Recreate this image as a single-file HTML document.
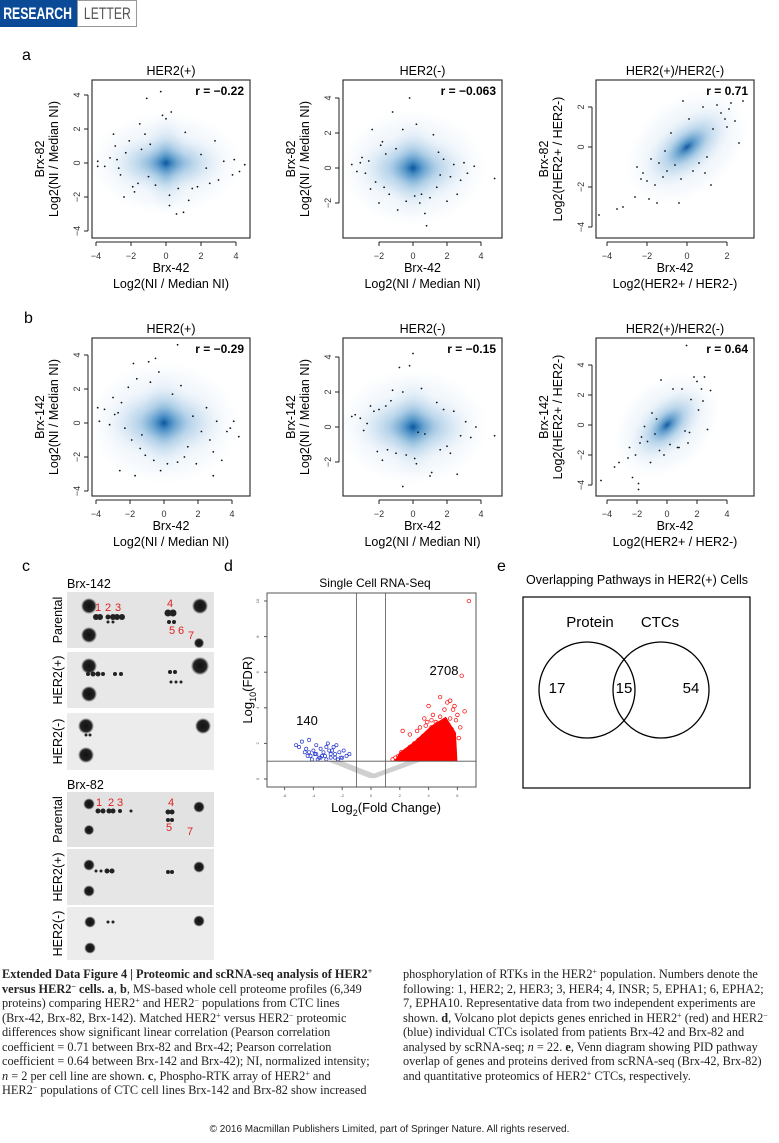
<!DOCTYPE html>
<html><head><meta charset="utf-8">
<style>
body{margin:0;width:779px;height:1143px;background:#fff;position:relative;overflow:hidden;font-family:"Liberation Sans",sans-serif;}
.abs{position:absolute;}
.cap{position:absolute;font-family:"Liberation Serif",serif;font-size:12.3px;line-height:14.5px;color:#222;}
.cap p{margin:0;white-space:nowrap;}
.cap sup{font-size:8px;line-height:0;vertical-align:4px;}
</style></head>
<body>
<div class="abs" style="left:0;top:0;width:77px;height:27px;background:#0b4a96;overflow:hidden"><span style="display:block;width:96px;color:#fff;font:bold 17px 'Liberation Sans',sans-serif;line-height:27px;text-align:center;transform:scaleX(0.72);transform-origin:0 0;margin-left:3px">RESEARCH</span></div>
<div class="abs" style="left:77px;top:0;width:58px;height:25px;border:1px solid #999;overflow:hidden"><span style="display:block;width:76px;color:#555;font:17px 'Liberation Sans',sans-serif;line-height:25px;text-align:center;transform:scaleX(0.72);transform-origin:0 0;margin-left:2px">LETTER</span></div>

<svg class="abs" style="left:0;top:0" width="779" height="960" id="fig" font-family="Liberation Sans, sans-serif">
<defs>
<radialGradient id="dens"><stop offset="0" stop-color="#08519c" stop-opacity="0.95"/><stop offset="0.15" stop-color="#2b7bba" stop-opacity="0.75"/><stop offset="0.45" stop-color="#7fb3d8" stop-opacity="0.45"/><stop offset="0.75" stop-color="#c6dbef" stop-opacity="0.3"/><stop offset="1" stop-color="#deebf7" stop-opacity="0"/></radialGradient>
<radialGradient id="halo"><stop offset="0" stop-color="#c6dbef" stop-opacity="0.6"/><stop offset="0.7" stop-color="#deebf7" stop-opacity="0.35"/><stop offset="1" stop-color="#deebf7" stop-opacity="0"/></radialGradient>
<radialGradient id="blob"><stop offset="0" stop-color="#111"/><stop offset="0.7" stop-color="#222"/><stop offset="1" stop-color="#444" stop-opacity="0"/></radialGradient>
</defs>
<g font-size="16"><text x="22" y="60">a</text><text x="24" y="323">b</text><text x="22" y="571">c</text><text x="224" y="571">d</text><text x="497" y="571">e</text></g>
<g id="scatters"></g>
<g id="blots"></g>
<g id="volcano"></g>
<g id="venn">
<text x="637" y="584" font-size="12.5" text-anchor="middle">Overlapping Pathways in HER2(+) Cells</text>
<rect x="523" y="597" width="227" height="191" fill="none" stroke="#000" stroke-width="1.2"/>
<circle cx="587" cy="690" r="48" fill="none" stroke="#000" stroke-width="1.3"/>
<circle cx="661" cy="690" r="48" fill="none" stroke="#000" stroke-width="1.3"/>
<g font-size="15" text-anchor="middle">
<text x="590" y="627">Protein</text>
<text x="660" y="627">CTCs</text>
<text x="557" y="693">17</text>
<text x="624" y="693">15</text>
<text x="691" y="693">54</text>
</g></g>
</svg>

<div class="cap" style="left:2px;top:967px">
<p><b>Extended Data Figure 4 | Proteomic and scRNA-seq analysis of HER2<sup>+</sup></b></p>
<p><b>versus HER2<sup>−</sup> cells. a</b>, <b>b</b>, MS-based whole cell proteome profiles (6,349</p>
<p>proteins) comparing HER2<sup>+</sup> and HER2<sup>−</sup> populations from CTC lines</p>
<p>(Brx-42, Brx-82, Brx-142). Matched HER2<sup>+</sup> versus HER2<sup>−</sup> proteomic</p>
<p>differences show significant linear correlation (Pearson correlation</p>
<p>coefficient = 0.71 between Brx-82 and Brx-42; Pearson correlation</p>
<p>coefficient = 0.64 between Brx-142 and Brx-42); NI, normalized intensity;</p>
<p><i>n</i> = 2 per cell line are shown. <b>c</b>, Phospho-RTK array of HER2<sup>+</sup> and</p>
<p>HER2<sup>−</sup> populations of CTC cell lines Brx-142 and Brx-82 show increased</p>
</div>
<div class="cap" style="left:403px;top:967px">
<p>phosphorylation of RTKs in the HER2<sup>+</sup> population. Numbers denote the</p>
<p>following: 1, HER2; 2, HER3; 3, HER4; 4, INSR; 5, EPHA1; 6, EPHA2;</p>
<p>7, EPHA10. Representative data from two independent experiments are</p>
<p>shown. <b>d</b>, Volcano plot depicts genes enriched in HER2<sup>+</sup> (red) and HER2<sup>−</sup></p>
<p>(blue) individual CTCs isolated from patients Brx-42 and Brx-82 and</p>
<p>analysed by scRNA-seq; <i>n</i> = 22. <b>e</b>, Venn diagram showing PID pathway</p>
<p>overlap of genes and proteins derived from scRNA-seq (Brx-42, Brx-82)</p>
<p>and quantitative proteomics of HER2<sup>+</sup> CTCs, respectively.</p>
</div>
<div class="abs" style="left:0;width:779px;top:1124px;text-align:center;font-size:10px;color:#222">© 2016 Macmillan Publishers Limited, part of Springer Nature. All rights reserved.</div>

<script>
// ---- panel a1: HER2(+) Brx-82 vs Brx-42 ----
const a1X=[-3.9,-3.9,-3.5,-3.2,-3,-2.9,-2.8,-2.6,-2.4,-2.3,-2.1,-1.9,-1.8,-1.6,-1.4,-1.2,-1.1,-1,-0.9,-0.6,-0.3,-0.2,0,0.2,0.3,0.2,0.6,0.7,1,1.1,1.3,1.5,2,2.3,2.5,2.8,3,3.3,3.8,3.9,4.2,4.5,-1.5,-2.7,1.8];
const a1Y=[0.1,-0.2,-0.2,0.3,1.7,1,0.2,-0.7,-2,0.6,1.3,-1.4,-1.7,-1.2,0.8,1.7,3.8,-0.8,1.1,-1.3,4.2,2.8,2.6,-1.9,3,-2.5,-3,-1.5,-2.9,1.8,-2.2,-1.5,0.5,-0.3,-1.2,1.3,-1,0.1,-0.7,0.2,-0.5,-0.1,2.3,-0.3,-1.4];
// ---- panel a2: HER2(-) Brx-82 vs Brx-42 ----
const a2X=[-3.6,-3.3,-3.1,-3,-2.8,-2.6,-2.4,-2.2,-2,-1.9,-1.7,-1.6,-1.4,-1.2,-1,-0.9,-0.6,-0.4,-0.2,0.1,0.2,0.4,0.7,0.8,1,1.2,1.4,1.6,1.8,2,2.2,2.4,2.6,2.8,3,3.2,3.6,4.8,-1.8,0.5,1.5,-2.5];
const a2Y=[0.2,-0.2,0.3,0.6,-0.3,0.4,2.2,-0.8,-2,1.3,-1.1,0.8,-1.5,3.2,1.1,-2.4,2.2,-1.9,4,-1.6,2.5,-2,-2.6,-3.3,-1.7,1.9,-1.1,-0.4,0.5,-1.9,-0.5,0.2,-1.5,-0.7,0.3,-0.3,0.1,-0.6,1.5,-1.5,0.9,-1.2];
// ---- panel a3: HER2(+)/HER2(-) ----
const a3X=[-4.4,-3.5,-3.2,-2.6,-2.5,-2.2,-2,-1.9,-1.8,-1.6,-1.5,-1.4,-1.2,-1,-0.8,-0.6,-0.4,-0.2,0.1,0.3,0.6,0.8,1,1.2,1.5,1.7,1.9,2,2.2,2.4,2.6,2.8,-2.3,-1.1,0.9,1.3,2.1,-0.3];
const a3Y=[-3.4,-3.1,-3,-2.5,-1,-1.3,-1.7,-2.6,-0.6,-1.9,-2.8,-0.8,-1.5,-1.2,0.7,-0.9,-2.8,2.3,1.4,-1.2,-0.8,2,-0.5,-1.9,2.1,1.7,1.4,1,2.2,1.3,0.2,2.3,-1.6,-0.2,-1.3,0.9,1.9,-1.6];
// ---- panel b1: HER2(+) Brx-142 vs Brx-42 ----
const b1X=[-3.9,-3.8,-3.5,-3.2,-3,-2.9,-2.7,-2.6,-2.5,-2.3,-2.1,-1.9,-1.8,-1.6,-1.4,-1.3,-1.1,-0.9,-0.8,-0.6,-0.5,-0.3,-0.2,0.2,0.5,0.8,1,1.2,1.4,1.7,1.9,2.2,2.5,2.7,2.9,3.1,3.4,3.7,3.9,4.1,4.4,0.8,2.9,-1.7];
const b1Y=[0.9,0.1,0.8,-0.1,1.5,0.5,0.6,-2.8,1.2,-0.3,2.1,-1,3.5,2.6,-1.5,-0.7,-1.9,3.6,2.4,-2.2,3.8,3,-2.8,-2.4,1.7,-2.3,2.2,-2,-1.4,0.4,-2.4,-0.5,0.9,-1,-1.7,0.1,-2.2,-0.5,-0.3,0.1,-0.8,4.6,-3.1,-3.1];
// ---- panel b2: HER2(-) Brx-142 vs Brx-42 ----
const b2X=[-3.6,-3.4,-3.1,-2.9,-2.7,-2.5,-2.3,-2.1,-2,-1.8,-1.6,-1.5,-1.3,-1.2,-1,-0.8,-0.6,-0.4,-0.2,0,0.1,0.3,0.5,0.7,1,1.1,1.4,1.6,1.8,2,2.2,2.4,2.6,2.8,3.1,3.4,3.7,4.8,-0.6,0.2];
const b2Y=[0.6,0.7,0.5,-0.2,0.2,1.2,0.9,-1.4,1,-1.9,1.2,-1.3,1.5,2.1,-1.5,3.4,2,-1.6,3.5,4.2,-1.8,-0.3,2.2,-0.4,-2.8,-2.6,1.4,-1.3,1,-1.1,-1.5,0.9,-2.7,-0.5,0.3,-0.6,0,-0.5,-3.4,-2.1];
// ---- panel b3: HER2(+)/HER2(-) ----
const b3X=[-4.4,-3.5,-3.2,-2.6,-2.3,-2.1,-1.9,-1.9,-1.8,-1.5,-1.3,-1.1,-1,-0.8,-0.5,-0.4,-0.2,0.2,0.4,0.7,1,1.2,1.4,1.6,1.8,2,2.1,2.3,2.5,2.7,2.9,1.3,-2.5,-1.7,0.8,1.5,2.4,-0.7];
const b3Y=[-3.7,-2.8,-2.5,-2.2,-3.5,-2,-3.9,-4.3,-1.2,-0.1,-1.1,-2.5,0.8,-0.6,-1.7,3,-2,-1.3,2.4,-1.5,2.4,-0.4,-1.2,1.7,3.2,2.9,1,2.4,3.2,-0.3,2.3,5.3,-1.5,-0.8,-1.5,-0.5,1.6,0.4];
// ---- volcano (d) ----
const upX=[1.5,1.7,1.9,2,2.1,2.2,2.3,2.4,2.5,2.6,2.7,2.8,2.9,3,3.1,3.2,3.3,3.4,3.5,3.6,3.7,3.8,3.9,4,4.1,4.2,4.3,4.4,4.5,4.6,4.7,4.8,4.9,5,5.1,5.2,5.3,5.4,5.5,5.6,5.8,6,6.2,6.5,3.9,4.1,4.4,4.7,5,5.3,3.2,3.5,3.8,4.3,4.6,4.9,2.9,3.4,5.5,6.1,2.4,2.7,3.1,3.6,4,4.5,5.1,5.7,6.8,3.7,4.2,4.8,2.2,5.9,6.3];
const upY=[1.1,1.2,1.3,1.1,1.5,1.2,1.4,1.6,1.3,1.2,1.8,1.5,1.3,2,1.6,1.4,2.2,1.8,1.5,2.4,2,1.7,2.6,2.2,1.9,2.9,2.4,2.1,3.2,2.6,2.2,3.5,2.8,2.4,3.9,3,2.6,2.3,3.4,2.8,4.1,3.6,2.9,3.8,3.2,1.3,1.6,2.7,1.5,4.3,2.7,1.2,3,3.6,3.1,1.9,1.7,2.9,4.4,2.3,1.3,2.5,1.8,1.4,4.1,1.2,2.5,3.9,10,3.4,3.3,4.6,2.7,3.3,5.8];
const downX=[-5.2,-5,-4.8,-4.6,-4.5,-4.3,-4.2,-4,-3.9,-3.8,-3.6,-3.5,-3.3,-3.2,-3,-2.9,-2.8,-2.6,-2.5,-2.3,-2.2,-2,-1.9,-1.7,-1.5,-4.4,-3.7,-3.1,-2.7,-2.4,-4.1,-3.4,-2.1,-3.8,-3.5,-3.1,-2.8,-2.5,-2.3,-4.3];
const downY=[1.9,1.8,2.1,1.5,1.7,2.2,1.3,1.6,1.4,1.9,1.2,1.7,1.5,1.3,2,1.6,1.2,1.8,1.4,1.1,1.5,1.2,1.6,1.3,1.4,1.3,1.1,1.8,1.6,1.9,1.1,1.3,1.2,1.4,1.2,1.1,1.4,1.2,1.1,1.5];
const volXTicks=[-6,-4,-2,0,2,4,6];
const volYTicks=[0,2,4,6,8,10];

const NS='http://www.w3.org/2000/svg';
function mk(tag,attrs,parent){const e=document.createElementNS(NS,tag);for(const k in attrs)e.setAttribute(k,attrs[k]);parent.appendChild(e);return e;}
function txt(s,attrs,parent){const e=mk('text',attrs,parent);e.textContent=s;return e;}

const panels=[
 {id:'a1',xs:a1X,ys:a1Y,box:[92,80,250,238],x0:166,y0:163,sx:17.5,sy:17,xt:[-4,-2,0,2,4],yt:[-4,-2,0,2,4],title:'HER2(+)',r:'r = −0.22',yl1:'Brx-82',yl2:'Log2(NI / Median NI)',xl2:'Log2(NI / Median NI)',tilt:0,dw:[60,30]},
 {id:'a2',xs:a2X,ys:a2Y,box:[343,80,502,238],x0:413,y0:168,sx:17,sy:17.5,xt:[-2,0,2,4],yt:[-2,0,2,4],title:'HER2(-)',r:'r = −0.063',yl1:'Brx-82',yl2:'Log2(NI / Median NI)',xl2:'Log2(NI / Median NI)',tilt:0,dw:[58,34]},
 {id:'a3',xs:a3X,ys:a3Y,box:[596,80,754,238],x0:687,y0:147,sx:20,sy:20,xt:[-4,-2,0,2],yt:[-4,-2,0,2],title:'HER2(+)/HER2(-)',r:'r = 0.71',yl1:'Brx-82',yl2:'Log2(HER2+ / HER2-)',xl2:'Log2(HER2+ / HER2-)',tilt:-40,dw:[55,28]},
 {id:'b1',xs:b1X,ys:b1Y,box:[92,338,250,496],x0:164,y0:423,sx:17,sy:17,xt:[-4,-2,0,2,4],yt:[-4,-2,0,2,4],title:'HER2(+)',r:'r = −0.29',yl1:'Brx-142',yl2:'Log2(NI / Median NI)',xl2:'Log2(NI / Median NI)',tilt:0,dw:[60,36]},
 {id:'b2',xs:b2X,ys:b2Y,box:[343,338,502,496],x0:413,y0:427,sx:17,sy:17.5,xt:[-2,0,2,4],yt:[-2,0,2,4],title:'HER2(-)',r:'r = −0.15',yl1:'Brx-142',yl2:'Log2(NI / Median NI)',xl2:'Log2(NI / Median NI)',tilt:0,dw:[60,34]},
 {id:'b3',xs:b3X,ys:b3Y,box:[596,338,754,496],x0:667,y0:425,sx:15,sy:15,xt:[-4,-2,0,2,4],yt:[-4,-2,0,2,4],title:'HER2(+)/HER2(-)',r:'r = 0.64',yl1:'Brx-142',yl2:'Log2(HER2+ / HER2-)',xl2:'Log2(HER2+ / HER2-)',tilt:-45,dw:[48,26]}
];
const SG=document.getElementById('scatters');
panels.forEach(p=>{
 const g=mk('g',{},SG);
 
 
 const [L,T,R,B]=p.box;
 const X=v=>p.x0+v*p.sx, Y=v=>p.y0-v*p.sy;
 const cp=mk('clipPath',{id:'cp'+p.id},g);mk('rect',{x:L,y:T,width:R-L,height:B-T},cp);
 const dg=mk('g',{'clip-path':'url(#cp'+p.id+')'},g);
 const h=mk('ellipse',{cx:X(0),cy:Y(0),rx:p.dw[0]*1.25,ry:p.dw[1]*1.7,fill:'url(#halo)',transform:`rotate(${p.tilt} ${X(0)} ${Y(0)})`},dg);
 
 
 const d=mk('ellipse',{cx:X(0),cy:Y(0),rx:p.dw[0],ry:p.dw[1],fill:'url(#dens)',transform:`rotate(${p.tilt} ${X(0)} ${Y(0)})`},dg);
 
 
 if(p.tilt===0){const d2=mk('ellipse',{cx:X(0),cy:Y(0),rx:p.dw[1]*0.8,ry:p.dw[0]*0.85,fill:'url(#dens)',opacity:0.55},dg);
 
 }
 p.xs.forEach((x,i)=>{const c=mk('circle',{cx:X(x),cy:Y(p.ys[i]),r:0.9,fill:'#111'},dg);
 
 });
 mk('rect',{x:L,y:T,width:R-L,height:B-T,fill:'none',stroke:'#222','stroke-width':1.1},g);
 const xa=mk('g',{},g);
 
 
 mk('line',{x1:X(p.xt[0]),x2:X(p.xt[p.xt.length-1]),y1:B+4,y2:B+4,stroke:'#222'},xa);
 p.xt.forEach(t=>{mk('line',{x1:X(t),x2:X(t),y1:B+4,y2:B+8,stroke:'#222'},xa);txt(t<0?'−'+(-t):''+t,{x:X(t),y:B+21,'font-size':9,'text-anchor':'middle',fill:'#333'},xa);});
 const ya=mk('g',{},g);
 
 
 const yts=p.yt.filter(t=>Y(t)>=T-2&&Y(t)<=B+2);
 mk('line',{x1:L-4,x2:L-4,y1:Y(yts[0]),y2:Y(yts[yts.length-1]),stroke:'#222'},ya);
 yts.forEach(t=>{mk('line',{x1:L-8,x2:L-4,y1:Y(t),y2:Y(t),stroke:'#222'},ya);txt(t<0?'−'+(-t):''+t,{x:L-12,y:Y(t),'font-size':9,'text-anchor':'middle',fill:'#333',transform:`rotate(-90 ${L-12} ${Y(t)})`},ya);});
 const cx=(L+R)/2;
 const tt=txt(p.title,{x:cx,y:T-5,'font-size':12.5,'text-anchor':'middle'},g);
 
 
 const rt=txt(p.r,{x:R-6,y:T+15,'font-size':12,'font-weight':'bold','text-anchor':'end'},g);
 
 
 const xl=txt('Brx-42',{x:cx,y:B+34,'font-size':12.5,'text-anchor':'middle'},g);
 
 
 const xl2=txt(p.xl2,{x:cx,y:B+50,'font-size':12.5,'text-anchor':'middle'},g);
 
 
 const cy=(T+B)/2;
 const y1=txt(p.yl1,{x:L-48,y:cy,'font-size':12.5,'text-anchor':'middle',transform:`rotate(-90 ${L-48} ${cy})`},g);
 
 
 const y2=txt(p.yl2,{x:L-34,y:cy,'font-size':12.5,'text-anchor':'middle',transform:`rotate(-90 ${L-34} ${cy})`},g);
 
 
});

// ---- blots (c) ----
const BG=document.getElementById('blots');
const blotRows=[
 {name:'brx142-parental',y:592,h:56,label:'Parental',bg:'#e4e4e4',nums:[['1',98,611],['2',108,611],['3',118,611],['4',170,607],['5',172,634],['6',181,634],['7',191,639]],spots:[[96,617,3],[100,617,3],[108,617,2.5],[113,617,3],[117,617,3],[122,617,3],[168,613,3.5],[173,613,3.5],[169,622,2],[174,622,2],[108,622,1.5],[113,622,1.5]],big:[[89,606,7],[89,635,7],[200,606,7],[199,643,4.5]]},
 {name:'brx142-her2pos',y:652,h:56,label:'HER2(+)',bg:'#e8e8e8',nums:[],spots:[[88,674,2],[93,674,2.5],[98,674,2.5],[103,674,2],[115,674,2],[121,674,2],[170,672,2],[175,672,2],[171,682,1.5],[176,682,1.5],[181,682,1.5]],big:[[89,666,7],[89,694,7],[200,666,8]]},
 {name:'brx142-her2neg',y:713,h:57,label:'HER2(-)',bg:'#ececec',nums:[],spots:[[86,735,1.5],[90,735,1.5]],big:[[86,726,7],[86,755,7],[203,726,7]]},
 {name:'brx82-parental',y:792,h:55,label:'Parental',bg:'#e2e2e2',nums:[['1',99,806],['2',111,806],['3',120,806],['4',171,806],['5',169,831],['7',190,835]],spots:[[98,811,2.5],[103,811,2.5],[109,811,2.5],[113,811,2.5],[120,811,2],[131,811,1.5],[168,812,2.5],[172,812,2.5],[168,820,2],[172,820,2]],big:[[89,804,5],[89,830,4.5],[199,807,5]]},
 {name:'brx82-her2pos',y:849,h:56,label:'HER2(+)',bg:'#e6e6e6',nums:[],spots:[[96,871,1.5],[101,871,1.5],[107,871,2.5],[112,871,2.5],[168,872,2],[172,872,2]],big:[[89,865,5],[89,891,5],[199,867,5]]},
 {name:'brx82-her2neg',y:907,h:53,label:'HER2(-)',bg:'#ececec',nums:[],spots:[[108,922,1.5],[113,922,1.5]],big:[[90,922,5],[90,948,5],[199,921,5]]}
];
txt('Brx-142',{x:67,y:588,'font-size':12.5},BG);
txt('Brx-82',{x:67,y:789,'font-size':12.5},BG);
blotRows.forEach(b=>{
 const g=mk('g',{},BG);
 
 
 mk('rect',{x:67,y:b.y,width:147,height:b.h,fill:b.bg},g);
 b.big.forEach(s=>mk('circle',{cx:s[0],cy:s[1],r:s[2]*1.15,fill:'url(#blob)'},g));
 b.spots.forEach(s=>mk('circle',{cx:s[0],cy:s[1],r:s[2],fill:'#222'},g));
 b.nums.forEach(n=>txt(n[0],{x:n[1],y:n[2],'font-size':11,fill:'#e02020','text-anchor':'middle'},g));
 const cy=b.y+b.h/2;
 txt(b.label,{x:62,y:cy,'font-size':12.5,'text-anchor':'middle',transform:`rotate(-90 62 ${cy})`},g);
});

// ---- volcano (d) ----
const VG=document.getElementById('volcano');


const VX=v=>371+v*14.4, VY=v=>779-v*17.8;
txt('Single Cell RNA-Seq',{x:375,y:587,'font-size':12,'text-anchor':'middle'},VG);
mk('path',{d:`M${VX(-3)} ${VY(1)} L${VX(-0.1)} ${VY(0.05)} L${VX(0.3)} ${VY(0.05)} L${VX(3.5)} ${VY(1)} L${VX(2.5)} ${VY(1)} L${VX(0.2)} ${VY(0.3)} L${VX(-2)} ${VY(1)} Z`,fill:'#cfcfcf'},VG);
mk('path',{d:`M${VX(1.6)} ${VY(1)} L${VX(6)} ${VY(1)} L${VX(5.9)} ${VY(2.6)} L${VX(5.2)} ${VY(3.5)} L${VX(4.2)} ${VY(3.0)} L${VX(3)} ${VY(2.1)} L${VX(2)} ${VY(1.5)} Z`,fill:'#f00'},VG);
downX.forEach((x,i)=>{const c=mk('circle',{cx:VX(x),cy:VY(downY[i]),r:1.6,fill:'none',stroke:'#2233cc','stroke-width':0.7},VG);
 
 });
upX.forEach((x,i)=>{const c=mk('circle',{cx:VX(x),cy:VY(upY[i]),r:1.8,fill:'none',stroke:'#f00','stroke-width':0.7},VG);
 
 });
mk('rect',{x:267,y:593,width:209,height:194,fill:'none',stroke:'#555','stroke-width':1},VG);
[-1,1].forEach(v=>mk('line',{x1:VX(v),x2:VX(v),y1:593,y2:787,stroke:'#555','stroke-width':0.8},VG));
mk('line',{x1:267,x2:476,y1:VY(1),y2:VY(1),stroke:'#555','stroke-width':0.8},VG);
volXTicks.forEach(t=>{mk('line',{x1:VX(t),x2:VX(t),y1:787,y2:790,stroke:'#555'},VG);txt(''+t,{x:VX(t),y:797,'font-size':4,'text-anchor':'middle',fill:'#555'},VG);});
volYTicks.forEach(t=>{mk('line',{x1:264,x2:267,y1:VY(t),y2:VY(t),stroke:'#555'},VG);txt(''+t,{x:259,y:VY(t),'font-size':4,'text-anchor':'middle',fill:'#555',transform:`rotate(-90 259 ${VY(t)})`},VG);});
const vxt=txt('',{x:386,y:812,'font-size':13,'text-anchor':'middle'},VG);
vxt.innerHTML='Log<tspan font-size="9" dy="4">2</tspan><tspan dy="-4">(Fold Change)</tspan>';

const vyt=txt('',{x:252,y:690,'font-size':13,'text-anchor':'middle',transform:'rotate(-90 252 690)'},VG);
vyt.innerHTML='Log<tspan font-size="9" dy="4">10</tspan><tspan dy="-4">(FDR)</tspan>';

txt('140',{x:307,y:725,'font-size':13,'text-anchor':'middle'},VG);
txt('2708',{x:444,y:675,'font-size':13,'text-anchor':'middle'},VG);
</script>
</body></html>
